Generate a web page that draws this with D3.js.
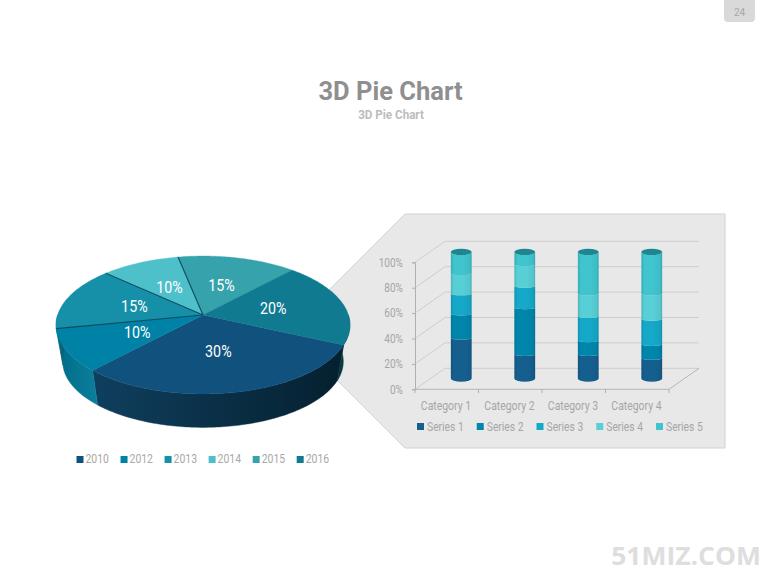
<!DOCTYPE html>
<html><head><meta charset="utf-8">
<script src="https://cdn.jsdelivr.net/npm/d3@7"></script>
<style>html,body{margin:0;padding:0;background:#fff}svg{display:block}text{font-family:Roboto,sans-serif}</style>
</head><body><svg id="c" width="780" height="585"></svg>
<script>
const pieYears = ["2010","2012","2013","2014","2015","2016"];
const pieValues = [30,10,15,10,15,20];
const pieColors = ["#10527d","#0082a6","#1590a8","#4ec0c9","#36a2ab","#107a90"];
const sideStart = ["#0f3f5e","#0b7f9d","#0c6f84","#2f8e96","#20757c","#0a4a57"];
const sideEnd   = ["#05202f","#006c88","#0a5f72","#2f8e96","#20757c","#052f38"];
const categories = ["Category 1","Category 2","Category 3","Category 4"];
const seriesNames = ["Series 1","Series 2","Series 3","Series 4","Series 5"];
const series1 = [32,19,19,16];
const series2 = [19,37,11,11];
const series3 = [16,17,19,20];
const series4 = [16,17,18,20];
const series5 = [17,10,33,33];
const seriesColors = ["#155f8f","#0086ab","#15a8c8","#58ced5","#40c4cd"];
const yTicks = [0,20,40,60,80,100];

const svg = d3.select("#c");
const defs = svg.append("defs");
const GREY = "#a6a6a6";

function label(g,str,x,y,o={}){
  return g.append("text").text(str)
    .attr("transform",`translate(${x},${y}) scale(${o.sx||0.82},1)`)
    .attr("text-anchor",o.anchor||"start")
    .attr("font-size",o.size||12)
    .attr("font-weight",o.weight||400)
    .attr("fill",o.fill||GREY);
}

/* header */
svg.append("path").attr("d","M724,0H755V18Q755,22 751,22H728Q724,22 724,18Z").attr("fill","#d9d9d9");
label(svg,"24",739.5,16,{anchor:"middle",size:10,sx:1,fill:"#a8a8a8"});
label(svg,"3D Pie Chart",390.5,100,{anchor:"middle",size:25.5,weight:700,sx:1,fill:"#8f8f8f"});
label(svg,"3D Pie Chart",391,119,{anchor:"middle",size:12,weight:700,sx:.97,fill:"#bdbdbd"});
label(svg,"51MIZ.COM",761,565,{anchor:"end",size:25,weight:700,sx:1.06,fill:"#dedede"}).style("font-family","'Open Sans',sans-serif");

/* callout panel */
svg.append("path").attr("d","M288,331L405,214H725V448H405Z").attr("fill","#e8e8e8").attr("stroke","#d2d2d2");

/* 3D bar chart */
const x3 = d3.scaleBand().domain(categories).range([415,669]);
const yAxisScale = d3.scaleLinear().domain([0,100]).range([389.3,262.3]);
const dx = 30, dy = -21;
const bar = svg.append("g");
const gridC = "#cdcdcd";
yTicks.forEach(t=>{
  const y = yAxisScale(t);
  bar.append("polyline").attr("fill","none").attr("stroke",gridC)
    .attr("points",`415,${y} ${415+dx},${y+dy} ${669+dx},${y+dy}`);
});
bar.append("path").attr("fill","none").attr("stroke","#b5b5b5")
  .attr("d",`M415,389.3H669L${669+dx},${389.3+dy}`);
const yAxis = d3.axisLeft(yAxisScale).tickValues(yTicks).tickSize(3).tickFormat(d=>d+"%");
const ya = bar.append("g").attr("transform","translate(415,0)").call(yAxis);
ya.selectAll("path,line").attr("stroke","#b0b0b0");
ya.selectAll("text").attr("x",0).attr("dy",null).attr("dominant-baseline","central")
  .attr("transform","translate(-12,0) scale(.84,1)").attr("font-size",12).attr("fill",GREY).attr("font-family","Roboto");
const xEdges = d3.range(categories.length+1).map(i=>415+i*x3.step());
xEdges.forEach(e=>bar.append("line").attr("x1",e).attr("x2",e).attr("y1",389.3).attr("y2",393).attr("stroke","#b0b0b0"));
categories.forEach(c=>label(bar,c,x3(c)+x3.bandwidth()/2-0.8,410,{anchor:"middle",sx:.87}));

const allSeries=[series1,series2,series3,series4,series5];
seriesColors.forEach((c,i)=>{
  const g=defs.append("linearGradient").attr("id","cyl"+i);
  const col=d3.color(c);
  [[0,col.darker(.35)],[.15,col],[.6,col],[.9,col.darker(.12)],[1,col.darker(.45)]]
    .forEach(([o,k])=>g.append("stop").attr("offset",o).attr("stop-color",k));
});
const yCyl = d3.scaleLinear().domain([0,100]).range([378.5,252]);
const rX=10.4, rY=3.2, rSeam=1.6;
categories.forEach((c,ci)=>{
  const cx = x3(c)+x3.bandwidth()/2+14.5, L=cx-rX, R=cx+rX;
  let acc=0;
  allSeries.forEach((s,si)=>{
    const y0=yCyl(acc), y1=yCyl(acc+s[ci]); acc+=s[ci];
    const r0 = si===0?rY:rSeam, r1 = si===allSeries.length-1?rY:rSeam;
    bar.append("path").attr("fill",`url(#cyl${si})`)
      .attr("d",`M${L},${y0}A${rX},${r0} 0 0 0 ${R},${y0}L${R},${y1}A${rX},${r1} 0 0 1 ${L},${y1}Z`);
  });
  bar.append("ellipse").attr("cx",cx).attr("cy",yCyl(acc)).attr("rx",rX).attr("ry",rY).attr("fill","#1d8791");
});
const lgX = d3.scalePoint().domain(seriesNames).range([417,656]);
seriesNames.forEach((n,i)=>{
  bar.append("rect").attr("x",lgX(n)).attr("y",423).attr("width",7).attr("height",7).attr("fill",seriesColors[i]);
  label(bar,n,lgX(n)+10,430.5,{sx:.86});
});

/* 3D pie: perspective projection of the unit circle */
const PX=203, PY=315, A=145.4, B=67.5, K=-0.145;
function proj(theta,r=1,bottom=false){
  const u=r*Math.sin(theta), v=-r*Math.cos(theta), w=1+K*v;
  const s=bottom?0.955:1, off=bottom?37:0;
  return [PX+s*A*u/w, PY+off+s*B*v/w];
}
const deg=Math.PI/180;
const start=114.7*deg;
const arcs=d3.pie().sort(null).startAngle(start).endAngle(start+2*Math.PI)(pieValues);
const pieG=svg.append("g");
const line=d3.line();
function samples(a,b){const n=Math.max(2,Math.ceil((b-a)/(1*deg)));return d3.range(n+1).map(i=>a+(b-a)*i/n);}

/* sides */
arcs.forEach((d,i)=>{
  const ranges=[[d.startAngle,d.endAngle],[d.startAngle-2*Math.PI,d.endAngle-2*Math.PI]];
  ranges.forEach(([a0,a1])=>{
    const a=Math.max(a0,90*deg), b=Math.min(a1,270*deg);
    if(b<=a) return;
    const pts=samples(a,b);
    const top=pts.map(t=>proj(t)), bot=pts.map(t=>proj(t,1,true)).reverse();
    const id="side"+i+"_"+Math.round(a*100);
    const xs=top.concat(bot).map(p=>p[0]);
    const g=defs.append("linearGradient").attr("id",id).attr("gradientUnits","userSpaceOnUse")
      .attr("x1",d3.min(xs)).attr("x2",d3.max(xs)).attr("y1",0).attr("y2",0);
    const lft=i===5?sideEnd[i]:sideStart[i], rgt=i===5?sideStart[i]:sideEnd[i];
    g.append("stop").attr("offset",0).attr("stop-color",i===1?sideEnd[i]:lft);
    g.append("stop").attr("offset",1).attr("stop-color",i===1?sideStart[i]:rgt);
    pieG.append("path").attr("d",line(top.concat(bot))+"Z").attr("fill",`url(#${id})`)
      .attr("stroke",`url(#${id})`).attr("stroke-width",.4);
  });
});
/* top faces */
arcs.forEach((d,i)=>{
  const pts=samples(d.startAngle,d.endAngle).map(t=>proj(t));
  pieG.append("path").attr("d",line([[PX,PY],...pts])+"Z").attr("fill",pieColors[i]).attr("stroke",pieColors[i]).attr("stroke-width",.4);
});
/* dark separators on the upper-left slices */
arcs.slice(1,4).forEach(d=>{
  pieG.append("path").attr("d",line([[PX,PY],proj(d.endAngle)])).attr("stroke","#0f4a62").attr("stroke-width",1.1).attr("fill","none");
});
/* labels */
arcs.forEach(d=>{
  const p=proj((d.startAngle+d.endAngle)/2,.5);
  label(pieG,d.value+"%",p[0],p[1],{anchor:"middle",size:17,sx:.84,fill:"#fff"}).attr("dominant-baseline","central");
});
/* pie legend */
const pl=d3.scalePoint().domain(pieYears).range([76.5,296.7]);
pieYears.forEach((n,i)=>{
  pieG.append("rect").attr("x",pl(n)).attr("y",456).attr("width",7).attr("height",7).attr("fill",pieColors[i]);
  label(pieG,n,pl(n)+9,463.3,{sx:.87,fill:"#a8a8a8"});
});
</script></body></html>
